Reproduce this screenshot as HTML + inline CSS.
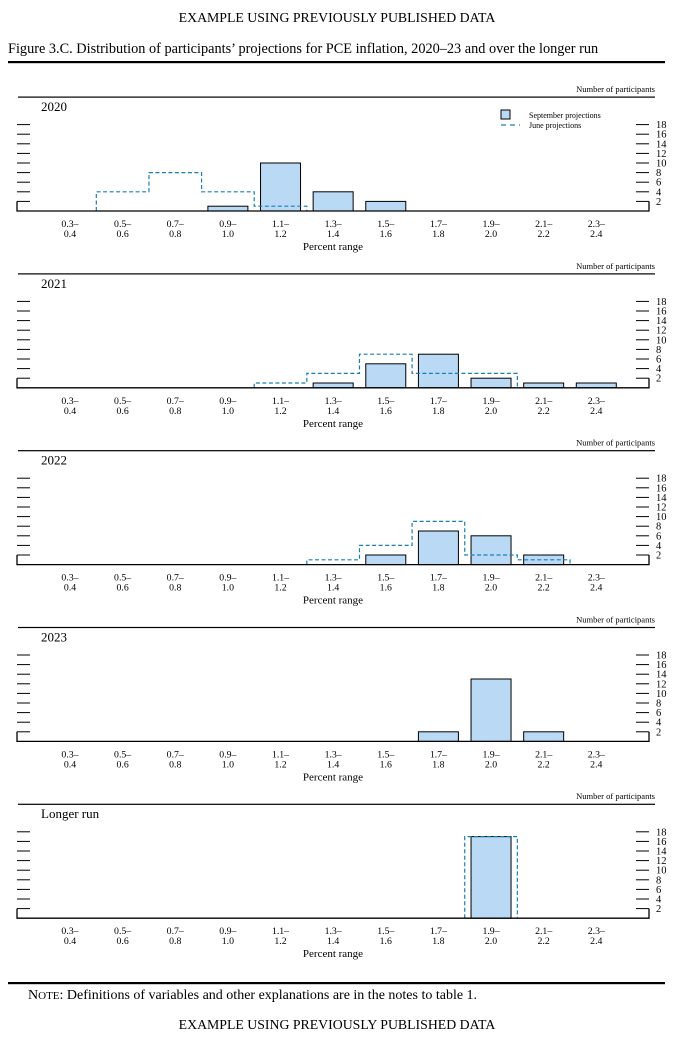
<!DOCTYPE html>
<html><head><meta charset="utf-8"><style>
body{margin:0;background:#fff;}
svg{display:block;font-family:"Liberation Serif",serif;}
</style></head><body>
<svg id="chart" width="676" height="1050" viewBox="0 0 676 1050" xmlns="http://www.w3.org/2000/svg">
<text x="337" y="22" text-anchor="middle" font-size="13.8">EXAMPLE USING PREVIOUSLY PUBLISHED DATA</text>
<text x="8" y="53" font-size="14.3">Figure 3.C. Distribution of participants’ projections for PCE inflation, 2020–23 and over the longer run</text>
<rect x="8" y="61" width="657" height="2.2" fill="#000"/>
<rect x="8" y="982" width="657" height="2.2" fill="#000"/>
<text x="28" y="999" font-size="14"><tspan font-size="14">N</tspan><tspan font-size="11">OTE</tspan>: Definitions of variables and other explanations are in the notes to table 1.</text>
<text x="337" y="1029" text-anchor="middle" font-size="13.8">EXAMPLE USING PREVIOUSLY PUBLISHED DATA</text>
<g id="panels"></g>
</svg>
<script>
const binLabelsTop=["0.3–","0.5–","0.7–","0.9–","1.1–","1.3–","1.5–","1.7–","1.9–","2.1–","2.3–"];
const binLabelsBot=["0.4","0.6","0.8","1.0","1.2","1.4","1.6","1.8","2.0","2.2","2.4"];
const yTicks=[2,4,6,8,10,12,14,16,18];
const panelTitles=["2020","2021","2022","2023","Longer run"];
const septSeries=[
 [0,0,0,1,10,4,2,0,0,0,0],
 [0,0,0,0,0,1,5,7,2,1,1],
 [0,0,0,0,0,0,2,7,6,2,0],
 [0,0,0,0,0,0,0,2,13,2,0],
 [0,0,0,0,0,0,0,0,17,0,0]
];
const juneSeries=[
 [0,4,8,4,1,0,0,0,0,0,0],
 [0,0,0,0,1,3,7,3,3,0,0],
 [0,0,0,0,0,1,4,9,2,1,0],
 [0,0,0,0,0,0,0,0,0,0,0],
 [0,0,0,0,0,0,0,0,17,0,0]
];
const NS="http://www.w3.org/2000/svg";
const g=document.getElementById('panels');
function mk(tag,attrs,parent){const e=document.createElementNS(NS,tag);for(const k in attrs)e.setAttribute(k,attrs[k]);(parent||g).appendChild(e);return e;}
const X0=70,STEP=52.63,BW=40,UNIT=4.8;
function xc(i){return X0+STEP*i;}
function yv(base,v){return base-v*UNIT;}
panelTitles.forEach((title,p)=>{
 const base=211+176.8*p;
 const pg=mk('g',{});
 
 
 let t=mk('text',{x:655,y:base-119,'text-anchor':'end','font-size':'8.5'},pg);t.textContent="Number of participants";
 
 
 let l=mk('rect',{x:18,y:base-114.5,width:637,height:1.2,fill:'#000'},pg);
 
 
 t=mk('text',{x:41,y:base-100,'font-size':'13'},pg);t.textContent=title;
 
 
 yTicks.forEach(v=>{
  const y=yv(base,v);
  const a=mk('line',{x1:17,x2:30,y1:y,y2:y,stroke:'#000','stroke-width':1},pg);
  
  
  const b=mk('line',{x1:636,x2:649,y1:y,y2:y,stroke:'#000','stroke-width':1},pg);
  
  
  const tl=mk('text',{x:656,y:y+3.5,'font-size':'10.5'},pg);tl.textContent=v;
  
  
 });
 septSeries[p].forEach((v,i)=>{
  if(!v)return;
  const r=mk('rect',{x:xc(i)-BW/2,y:yv(base,v),width:BW,height:v*UNIT,fill:'#bad9f5',stroke:'#000','stroke-width':1},pg);
  
  
 });
 let d='';const js=juneSeries[p];
 js.forEach((v,i)=>{
  if(!v)return;
  const xl=xc(i)-STEP/2,xr=xc(i)+STEP/2;
  const prev=i>0?js[i-1]:0,next=i<js.length-1?js[i+1]:0;
  if(!prev)d+=`M${xl},${base}L${xl},${yv(base,v)}`;
  else d+=`L${xl},${yv(base,v)}`;
  d+=`L${xr},${yv(base,v)}`;
  if(!next)d+=`L${xr},${base}`;
  else d+=`L${xr},${yv(base,next)}`;
 });
 if(d){const pth=mk('path',{d:d,fill:'none',stroke:'#1a7fb0','stroke-width':1.2,'stroke-dasharray':'4,2.5'},pg);
  
  }
 const ax=mk('path',{d:`M17,${yv(base,2)}L17,${base}L649,${base}L649,${yv(base,2)}`,fill:'none',stroke:'#000','stroke-width':1.3},pg);
 
 
 binLabelsTop.forEach((s,i)=>{
  const a=mk('text',{x:xc(i),y:base+16,'text-anchor':'middle','font-size':'9.8'},pg);a.textContent=s;
  
  
  const b=mk('text',{x:xc(i),y:base+26,'text-anchor':'middle','font-size':'9.8'},pg);b.textContent=binLabelsBot[i];
  
  
 });
 t=mk('text',{x:333,y:base+39,'text-anchor':'middle','font-size':'11'},pg);t.textContent="Percent range";
 
 
 if(p===0){
  const lg=mk('g',{},pg);
  
  
  const sw=mk('rect',{x:501,y:110,width:9,height:9,fill:'#bad9f5',stroke:'#000','stroke-width':1},lg);
  
  
  let lt=mk('text',{x:529,y:118,'font-size':'8'},lg);lt.textContent="September projections";
  
  
  const dl=mk('line',{x1:501,x2:520,y1:125,y2:125,stroke:'#1a7fb0','stroke-width':1.2,'stroke-dasharray':'5,4'},lg);
  
  
  lt=mk('text',{x:529,y:128,'font-size':'8'},lg);lt.textContent="June projections";
  
  
 }
});
</script>
</body></html>
